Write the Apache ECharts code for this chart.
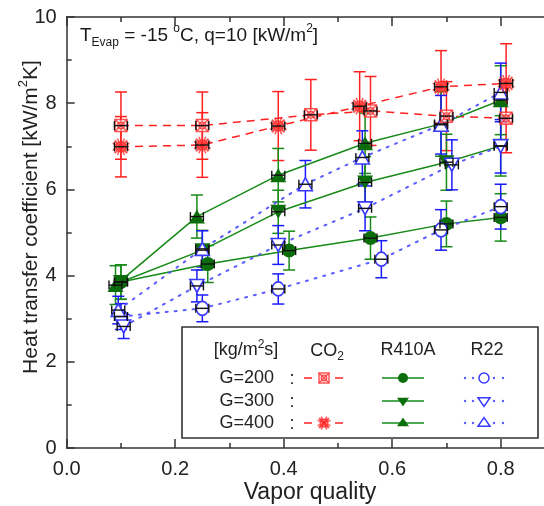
<!DOCTYPE html>
<html>
<head>
<meta charset="utf-8">
<script src="https://cdn.jsdelivr.net/npm/echarts@6/dist/echarts.min.js"></script>
<style>
  html, body { margin: 0; padding: 0; background: #fff; overflow: hidden; width: 544px; height: 506px; }
  /* the drawing surface is wider than the page: the frame's right side runs off-page */
  #chart { width: 640px; height: 506px; }
</style>
</head>
<body>
<div id="chart"></div>
<script>
// Flow boiling heat transfer coefficient [kW/m2K] vs vapor quality,
// with measurement uncertainty (±) for each point.

// CO2
const co2G200X = [0.10, 0.25, 0.45, 0.56, 0.70, 0.81];
const co2G200H = [7.48, 7.48, 7.73, 7.82, 7.70, 7.65];
const co2G200E = [0.78, 0.78, 0.82, 0.80, 0.80, 0.80];

const co2G400X = [0.10, 0.25, 0.39, 0.54, 0.69, 0.81];
const co2G400H = [6.99, 7.03, 7.47, 7.93, 8.38, 8.46];
const co2G400E = [0.70, 0.75, 0.80, 0.80, 0.84, 0.92];

// R410A
const r410G200X = [0.10, 0.26, 0.41, 0.56, 0.70, 0.80];
const r410G200H = [3.85, 4.27, 4.58, 4.87, 5.20, 5.35];
const r410G200E = [0.40, 0.43, 0.45, 0.49, 0.53, 0.55];

const r410G300X = [0.10, 0.25, 0.39, 0.55, 0.70, 0.80];
const r410G300H = [3.85, 4.59, 5.48, 6.16, 6.63, 7.01];
const r410G300E = [0.40, 0.46, 0.50, 0.60, 0.65, 0.70];

const r410G400X = [0.09, 0.24, 0.39, 0.55, 0.69, 0.80];
const r410G400H = [3.78, 5.37, 6.33, 7.07, 7.52, 8.07];
const r410G400E = [0.45, 0.50, 0.62, 0.70, 0.75, 0.80];

// R22
const r22G200X = [0.10, 0.25, 0.39, 0.58, 0.69, 0.80];
const r22G200H = [3.05, 3.24, 3.69, 4.38, 5.06, 5.60];
const r22G200E = [0.30, 0.31, 0.35, 0.43, 0.47, 0.52];

const r22G300X = [0.105, 0.24, 0.39, 0.55, 0.71, 0.80];
const r22G300H = [2.82, 3.76, 4.71, 5.56, 6.57, 7.00];
const r22G300E = [0.28, 0.37, 0.45, 0.52, 0.58, 0.62];

const r22G400X = [0.095, 0.25, 0.44, 0.545, 0.69, 0.80];
const r22G400H = [3.20, 4.62, 6.12, 6.74, 7.50, 8.25];
const r22G400E = [0.32, 0.42, 0.55, 0.62, 0.68, 0.68];

// uncertainty of vapor quality (±)
const qualityErr = 0.012;

// axes
const xTicks = [0, 0.2, 0.4, 0.6, 0.8, 1.0];
const yTicks = [0, 2, 4, 6, 8, 10];

const FONT = '"Liberation Sans", Arial, sans-serif';
const RED = '#ff2020', RED_MK = 'rgba(255,40,40,0.78)';
const GREEN = '#178a17', GREEN_MK = '#0b6e0b';
const BLUE = '#1a1aff', BLUE_MK = '#3a3aff', BLUE_LINE = '#5c5cff';

function pts(xs, ys) { return xs.map((x, i) => [x, ys[i]]); }
function errPts(xs, ys, es) { return xs.map((x, i) => [x, ys[i], es[i]]); }

// ---- marker shapes shared by the plot and the key ----
function co2SquareMarker(cx, cy, s) {
  const st = { stroke: RED_MK, lineWidth: 1.4, fill: 'none' };
  return [
    { type: 'rect', shape: { x: cx - s, y: cy - s, width: 2 * s, height: 2 * s },
      style: { stroke: RED_MK, lineWidth: 1.5, fill: 'rgba(255,255,255,0.55)' } },
    { type: 'circle', shape: { cx, cy, r: s * 0.55 }, style: st },
    { type: 'line', shape: { x1: cx - s, y1: cy - s, x2: cx + s, y2: cy + s }, style: st },
    { type: 'line', shape: { x1: cx - s, y1: cy + s, x2: cx + s, y2: cy - s }, style: st }
  ];
}
function co2StarMarker(cx, cy, r) {
  const st = { stroke: RED_MK, lineWidth: 1.5, fill: 'none' };
  const els = [{ type: 'circle', shape: { cx, cy, r: r * 0.55 }, style: st }];
  for (let k = 0; k < 4; k++) {
    const a = k * Math.PI / 4 + Math.PI / 8;
    els.push({ type: 'line', shape: {
      x1: cx - r * Math.cos(a), y1: cy - r * Math.sin(a),
      x2: cx + r * Math.cos(a), y2: cy + r * Math.sin(a) }, style: st });
  }
  els.push({ type: 'line', shape: { x1: cx - r * 0.7, y1: cy - r * 0.7, x2: cx + r * 0.7, y2: cy + r * 0.7 },
    style: { stroke: RED_MK, lineWidth: 2.2 } });
  els.push({ type: 'line', shape: { x1: cx - r * 0.7, y1: cy + r * 0.7, x2: cx + r * 0.7, y2: cy - r * 0.7 },
    style: { stroke: RED_MK, lineWidth: 2.2 } });
  return els;
}
function triPoints(cx, cy, s, down) {
  const h = s * 0.9;
  return down
    ? [[cx - s, cy - h * 0.6], [cx + s, cy - h * 0.6], [cx, cy + h * 1.0]]
    : [[cx - s, cy + h * 0.6], [cx + s, cy + h * 0.6], [cx, cy - h * 1.0]];
}

// ---- custom series builders ----
function yErrorSeries(data, color) {
  return {
    type: 'custom', z: 3, silent: true, data, encode: { x: 0, y: 1 },
    renderItem(params, api) {
      const x = api.value(0), y = api.value(1), e = api.value(2);
      const t = api.coord([x, y + e]), b = api.coord([x, y - e]);
      const w = 6, st = { stroke: color, lineWidth: 1.5 };
      return { type: 'group', children: [
        { type: 'line', shape: { x1: t[0], y1: t[1], x2: b[0], y2: b[1] }, style: st },
        { type: 'line', shape: { x1: t[0] - w, y1: t[1], x2: t[0] + w, y2: t[1] }, style: st },
        { type: 'line', shape: { x1: b[0] - w, y1: b[1], x2: b[0] + w, y2: b[1] }, style: st }
      ] };
    }
  };
}
function xErrorSeries(data) {
  return {
    type: 'custom', z: 8, silent: true, data, encode: { x: 0, y: 1 },
    renderItem(params, api) {
      const x = api.value(0), y = api.value(1);
      const l = api.coord([x - qualityErr, y]), r = api.coord([x + qualityErr, y]);
      const h = 4.5, st = { stroke: '#111', lineWidth: 1.4 };
      return { type: 'group', children: [
        { type: 'line', shape: { x1: l[0], y1: l[1], x2: r[0], y2: r[1] }, style: st },
        { type: 'line', shape: { x1: l[0], y1: l[1] - h, x2: l[0], y2: l[1] + h }, style: st },
        { type: 'line', shape: { x1: r[0], y1: r[1] - h, x2: r[0], y2: r[1] + h }, style: st }
      ] };
    }
  };
}
function markerSeries(data, shapeFn, size) {
  return {
    type: 'custom', z: 6, silent: true, data, encode: { x: 0, y: 1 },
    renderItem(params, api) {
      const p = api.coord([api.value(0), api.value(1)]);
      return { type: 'group', children: shapeFn(p[0], p[1], size) };
    }
  };
}
function lineSeries(xs, ys, opts) {
  return Object.assign({
    type: 'line', z: 5, silent: true, data: pts(xs, ys),
    animation: false, showAllSymbol: true
  }, opts);
}

const redLine = { color: RED, width: 1.5, type: [8, 6] };
const greenLine = { color: GREEN, width: 1.5 };
const blueLine = { color: BLUE_LINE, width: 2, type: [2, 7], cap: 'round' };
const blueOpen = { color: '#fff', borderColor: BLUE_MK, borderWidth: 1.6 };

const allSets = [
  [co2G200X, co2G200H, co2G200E, RED],
  [co2G400X, co2G400H, co2G400E, RED],
  [r410G200X, r410G200H, r410G200E, GREEN],
  [r410G300X, r410G300H, r410G300E, GREEN],
  [r410G400X, r410G400H, r410G400E, GREEN],
  [r22G200X, r22G200H, r22G200E, BLUE],
  [r22G300X, r22G300H, r22G300E, BLUE],
  [r22G400X, r22G400H, r22G400E, BLUE]
];

const series = [];
// vertical uncertainty bars
allSets.forEach(s => series.push(yErrorSeries(errPts(s[0], s[1], s[2]), s[3])));
// connecting lines and symbols
series.push(lineSeries(co2G200X, co2G200H, { symbol: 'none', lineStyle: redLine }));
series.push(lineSeries(co2G400X, co2G400H, { symbol: 'none', lineStyle: redLine }));
series.push(lineSeries(r410G200X, r410G200H, { symbol: 'circle', symbolSize: 14,
  itemStyle: { color: GREEN_MK }, lineStyle: greenLine }));
series.push(lineSeries(r410G300X, r410G300H, { symbol: 'triangle', symbolSize: [16, 14], symbolRotate: 180,
  itemStyle: { color: GREEN_MK }, lineStyle: greenLine }));
series.push(lineSeries(r410G400X, r410G400H, { symbol: 'triangle', symbolSize: [16, 14],
  itemStyle: { color: GREEN_MK }, lineStyle: greenLine }));
series.push(lineSeries(r22G200X, r22G200H, { symbol: 'circle', symbolSize: [12, 14],
  itemStyle: blueOpen, lineStyle: blueLine }));
series.push(lineSeries(r22G300X, r22G300H, { symbol: 'triangle', symbolSize: [14, 13], symbolRotate: 180,
  itemStyle: blueOpen, lineStyle: blueLine }));
series.push(lineSeries(r22G400X, r22G400H, { symbol: 'triangle', symbolSize: [14, 13],
  itemStyle: blueOpen, lineStyle: blueLine }));
// CO2 markers
series.push(markerSeries(pts(co2G200X, co2G200H), co2SquareMarker, 6));
series.push(markerSeries(pts(co2G400X, co2G400H), co2StarMarker, 9));
// vapor-quality uncertainty bars
allSets.forEach(s => series.push(xErrorSeries(pts(s[0], s[1]))));

// ---- key box ----
const KZ = 50;
function ktext(x, y, text, align, rich) {
  return { type: 'text', x, y, z: KZ + 1, silent: true,
    style: { text, align, verticalAlign: 'middle', fill: '#222',
      font: '18px ' + FONT, rich: rich || undefined } };
}
const key = [
  { type: 'rect', z: KZ, silent: true, shape: { x: 182, y: 327, width: 356, height: 111 },
    style: { fill: '#fff', stroke: '#333', lineWidth: 1.6 } },
  ktext(246, 350, '{a|[kg/m}{s|2}{a|s]}', 'center', {
    a: { fontSize: 18, fontFamily: FONT, fill: '#222', lineHeight: 22 },
    s: { fontSize: 12, fontFamily: FONT, fill: '#222', verticalAlign: 'top', lineHeight: 22 } }),
  ktext(327, 351, '{a|CO}{s|2}', 'center', {
    a: { fontSize: 18, fontFamily: FONT, fill: '#222', lineHeight: 24 },
    s: { fontSize: 12, fontFamily: FONT, fill: '#222', verticalAlign: 'bottom', lineHeight: 24 } }),
  ktext(408, 350, 'R410A', 'center'),
  ktext(487, 350, 'R22', 'center'),
  ktext(274, 378, 'G=200', 'right'),
  ktext(274, 401, 'G=300', 'right'),
  ktext(274, 423, 'G=400', 'right'),
  ktext(292, 379, ':', 'center'),
  ktext(292, 402, ':', 'center'),
  ktext(292, 424, ':', 'center')
];
function kline(x1, y, x2, st) {
  return { type: 'line', z: KZ + 1, silent: true, shape: { x1, y1: y, x2, y2: y }, style: st };
}
function kgroup(children) { return { type: 'group', z: KZ + 2, silent: true, children: children.map(c => Object.assign({ z: KZ + 2 }, c)) }; }
const rowY = [378, 401, 423];
// CO2 samples
[[0, co2SquareMarker, 5], [2, co2StarMarker, 7]].forEach(([row, fn, s]) => {
  const y = rowY[row];
  key.push(kline(304, y, 312, { stroke: RED, lineWidth: 1.5 }));
  key.push(kline(335, y, 343, { stroke: RED, lineWidth: 1.5 }));
  key.push(kgroup(fn(324, y, s)));
});
// R410A samples
rowY.forEach((y, row) => {
  key.push(kline(382, y, 424, { stroke: GREEN, lineWidth: 1.5 }));
  let shape;
  if (row === 0) shape = { type: 'circle', shape: { cx: 403, cy: y, r: 5 } };
  else shape = { type: 'polygon', shape: { points: triPoints(403, y, 6, row === 1) } };
  shape.style = { fill: GREEN_MK };
  key.push(kgroup([shape]));
});
// R22 samples
rowY.forEach((y, row) => {
  [465, 473, 494, 503].forEach(x => key.push({ type: 'circle', z: KZ + 1, silent: true,
    shape: { cx: x, cy: y, r: 1.2 }, style: { fill: BLUE_LINE } }));
  let shape;
  if (row === 0) shape = { type: 'circle', shape: { cx: 484, cy: y, r: 5 } };
  else shape = { type: 'polygon', shape: { points: triPoints(484, y, 6, row === 1) } };
  shape.style = { fill: '#fff', stroke: BLUE_MK, lineWidth: 1.5 };
  key.push(kgroup([shape]));
});

// ---- titles ----
const titles = [
  { type: 'text', x: 80, y: 36, z: 20, silent: true,
    style: { text: '{a|T}{b|Evap}{a| = -15 }{c|o}{a|C, q=10 [kW/m}{c|2}{a|]}',
      align: 'left', verticalAlign: 'middle',
      rich: {
        a: { fontSize: 19, fontFamily: FONT, fill: '#1a1a1a', lineHeight: 26 },
        b: { fontSize: 12, fontFamily: FONT, fill: '#1a1a1a', verticalAlign: 'bottom', lineHeight: 26 },
        c: { fontSize: 12, fontFamily: FONT, fill: '#1a1a1a', verticalAlign: 'top', lineHeight: 26 }
      } } },
  { type: 'text', x: 310, y: 493, z: 20, silent: true,
    style: { text: 'Vapor quality', align: 'center', verticalAlign: 'middle',
      font: '23px ' + FONT, fill: '#222' } },
  { type: 'text', x: 31, y: 217, rotation: Math.PI / 2, z: 20, silent: true,
    style: { text: '{a|Heat transfer coefficient [kW/m}{c|2}{a|K]}',
      align: 'center', verticalAlign: 'middle',
      rich: {
        a: { fontSize: 21, fontFamily: FONT, fill: '#222', lineHeight: 28 },
        c: { fontSize: 13, fontFamily: FONT, fill: '#222', verticalAlign: 'top', lineHeight: 28 }
      } } }
];

const axisLine = { show: true, lineStyle: { color: '#333', width: 1.5 } };
const tickStyle = { color: '#333', width: 1.5 };

const option = {
  animation: false,
  backgroundColor: '#fff',
  grid: { left: 66.7, top: 17, height: 431, width: 542.5, containLabel: false },
  xAxis: [
    { type: 'value', position: 'bottom', min: xTicks[0], max: xTicks[xTicks.length - 1], interval: 0.2,
      axisLine, splitLine: { show: false },
      axisTick: { inside: true, length: 9, lineStyle: tickStyle },
      minorTick: { show: true, splitNumber: 2, length: 5, lineStyle: tickStyle },
      axisLabel: { margin: 11, fontSize: 20, fontFamily: FONT, color: '#222',
        formatter: v => v.toFixed(1) } },
    { type: 'value', position: 'top', min: xTicks[0], max: xTicks[xTicks.length - 1], interval: 0.2,
      axisLine, splitLine: { show: false },
      axisTick: { inside: true, length: 9, lineStyle: tickStyle },
      minorTick: { show: true, splitNumber: 2, length: 5, lineStyle: tickStyle },
      axisLabel: { show: false } }
  ],
  yAxis: {
    type: 'value', min: yTicks[0], max: yTicks[yTicks.length - 1], interval: 2,
    axisLine, splitLine: { show: false },
    axisTick: { inside: true, length: 8, lineStyle: tickStyle },
    minorTick: { show: true, splitNumber: 2, length: 5, lineStyle: tickStyle },
    axisLabel: { margin: 10, fontSize: 20, fontFamily: FONT, color: '#222' }
  },
  series,
  graphic: titles.concat(key)
};

const chart = echarts.init(document.getElementById('chart'), null, { renderer: 'canvas' });
chart.setOption(option);
</script>
</body>
</html>
